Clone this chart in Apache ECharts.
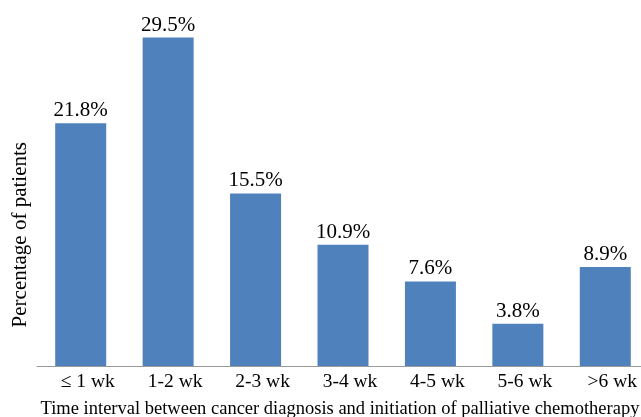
<!DOCTYPE html>
<html>
<head>
<meta charset="utf-8">
<script src="https://cdn.jsdelivr.net/npm/echarts@6/dist/echarts.min.js"></script>
<style>
  html, body { margin: 0; padding: 0; background: #fff; overflow: hidden; }
  #chart { width: 641px; height: 417px; overflow: hidden; }
</style>
</head>
<body>
<div id="chart"></div>
<script>
// Share of patients by wait between diagnosis and first palliative chemotherapy
const categories = ['\u2264 1 wk', '1-2 wk', '2-3 wk', '3-4 wk', '4-5 wk', '5-6 wk', '>6 wk'];
const percentages = [21.8, 29.5, 15.5, 10.9, 7.6, 3.8, 8.9];
const xTitle = 'Time interval between cancer diagnosis and initiation of palliative chemotherapy';
const yTitle = 'Percentage of patients';

const serif = '"Liberation Serif", "Times New Roman", serif';
const chart = echarts.init(document.getElementById('chart'), null, { renderer: 'canvas' });

chart.setOption({
  animation: false,
  backgroundColor: '#ffffff',
  grid: {
    left: 37, top: 32, width: 612, height: 334,
    containLabel: false,
    outerBoundsMode: 'none'
  },
  xAxis: {
    type: 'category',
    data: categories,
    axisLine: { show: true, lineStyle: { color: '#9a9a9a', width: 1 } },
    axisTick: { show: false },
    axisLabel: {
      color: '#000',
      fontFamily: serif,
      fontSize: 19.5,
      margin: 6,
      padding: [0, 0, 0, 14],
      interval: 0
    },
    name: xTitle,
    nameLocation: 'middle',
    nameGap: 34,
    nameTextStyle: {
      color: '#000',
      fontFamily: serif,
      fontSize: 18.5,
      padding: [0, 6, 0, 0]
    }
  },
  yAxis: {
    type: 'value',
    min: 0,
    max: 30,
    show: false,
    splitLine: { show: false }
  },
  graphic: [{
    type: 'text',
    left: 10,
    top: 142,
    rotation: Math.PI / 2,
    style: {
      text: yTitle,
      fill: '#000',
      font: '21px ' + serif
    }
  }],
  series: [{
    type: 'bar',
    data: percentages,
    barWidth: 51,
    itemStyle: { color: '#4f81bd' },
    label: {
      show: true,
      position: 'top',
      distance: 2,
      color: '#000',
      fontFamily: serif,
      fontSize: 21,
      formatter: p => p.value.toFixed(1) + '%'
    }
  }]
});
</script>
</body>
</html>
